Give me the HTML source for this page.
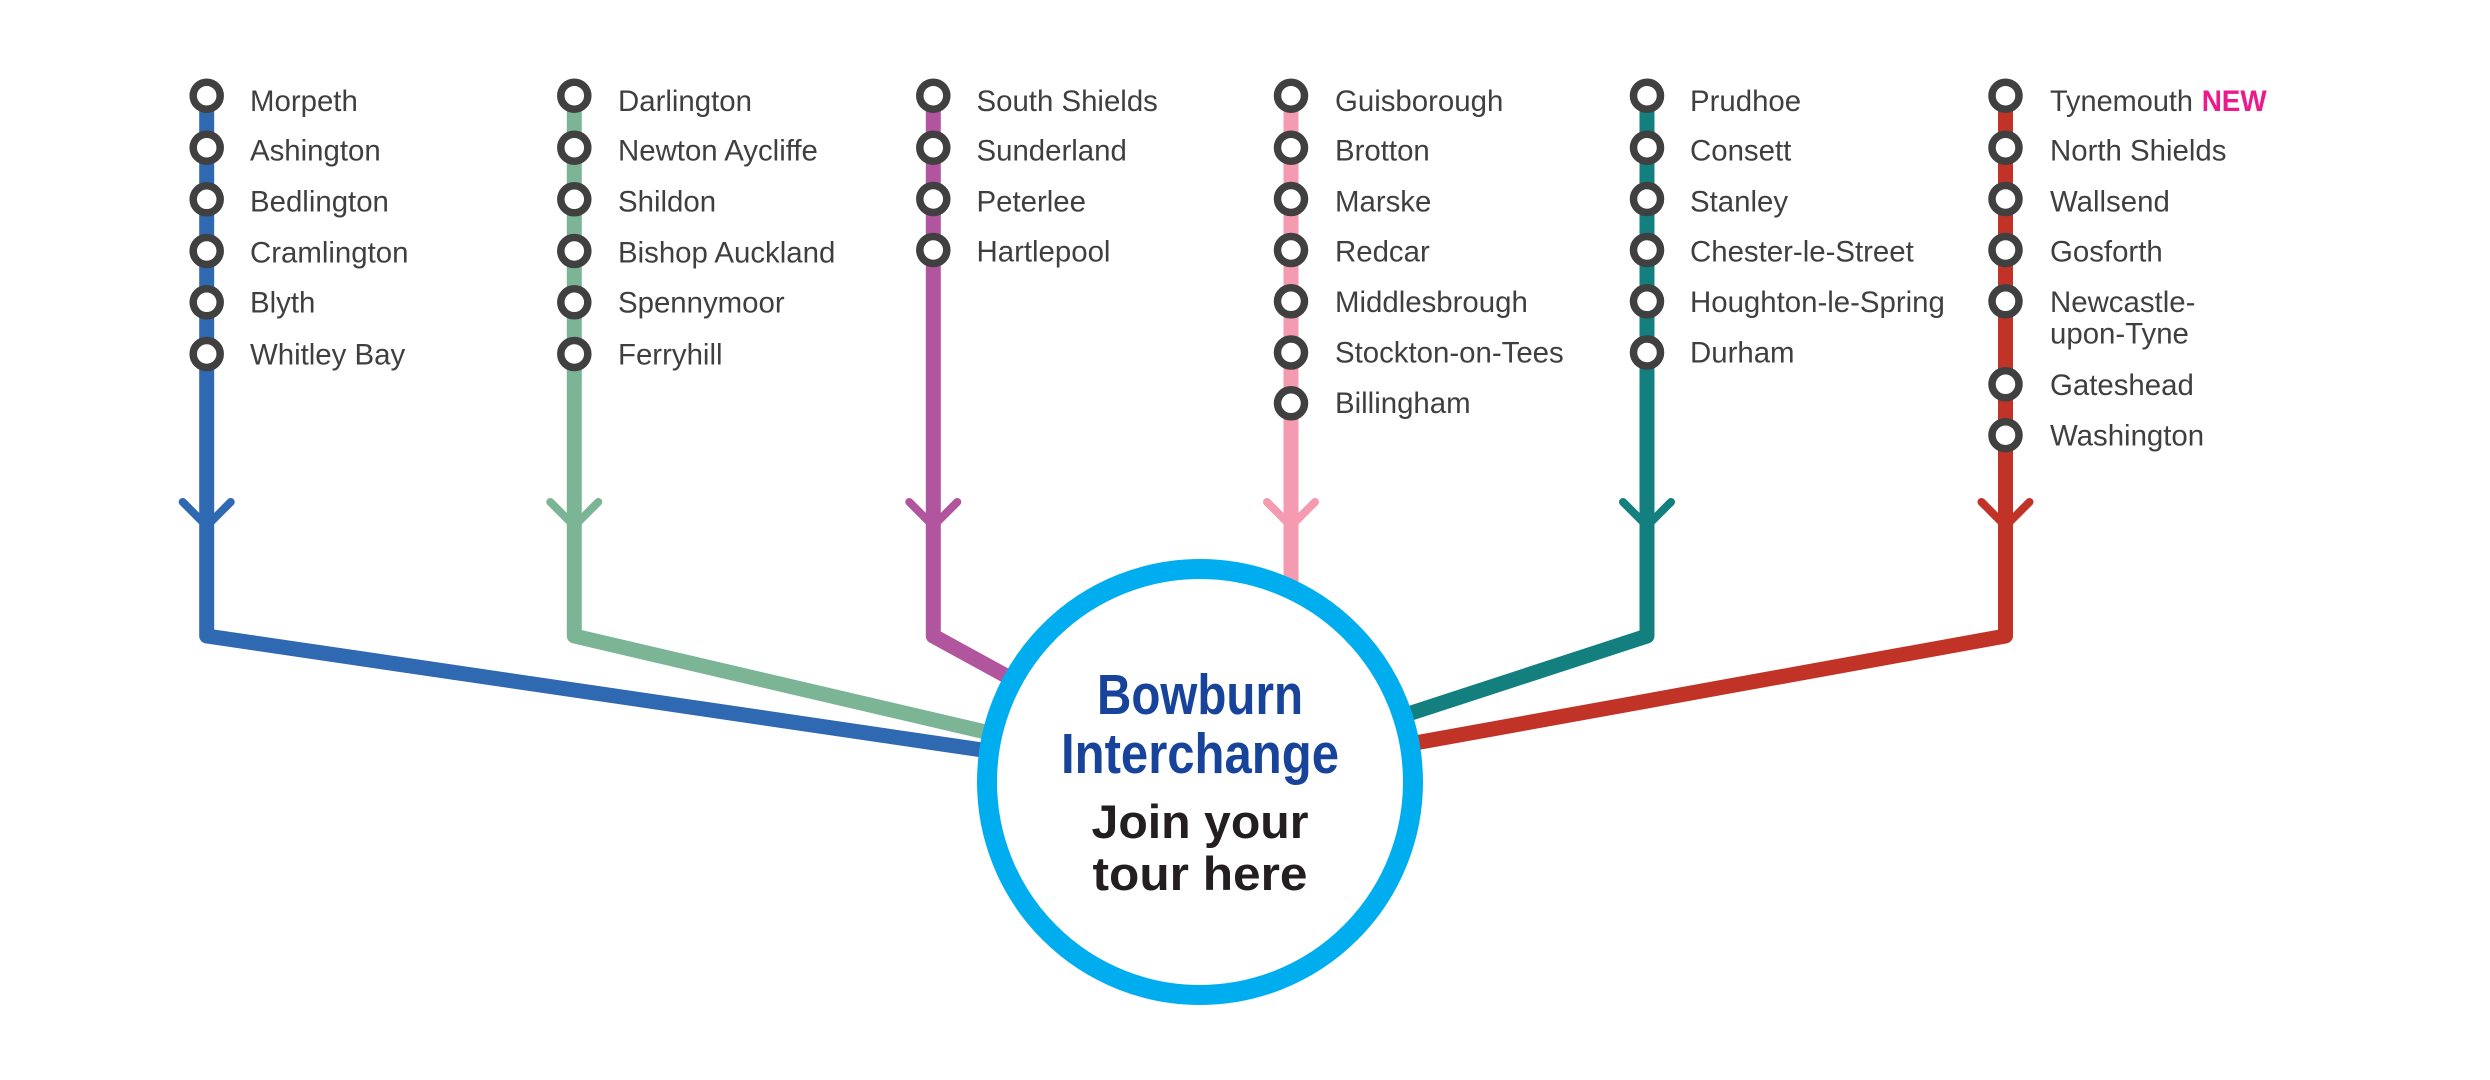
<!DOCTYPE html>
<html>
<head>
<meta charset="utf-8">
<style>
  html, body { margin:0; padding:0; background:#ffffff; }
  body { width:2490px; height:1080px; overflow:hidden; }
  svg { display:block; }
  .st { font-family:"Liberation Sans", Arial, sans-serif; font-size:29.4px; fill:#3f3f3f; }
  .ring { fill:#ffffff; stroke:#404040; stroke-width:7.5; }
  .ln { fill:none; stroke-width:15; stroke-linejoin:round; stroke-linecap:butt; }
  .arr { fill:none; stroke-width:8; stroke-linejoin:round; stroke-linecap:round; }
</style>
</head>
<body>
<svg width="2490" height="1080" viewBox="0 0 2490 1080" xmlns="http://www.w3.org/2000/svg">
  <rect width="2490" height="1080" fill="#ffffff"/>

  <!-- Route lines -->
  <path class="ln" stroke="#2f69b1" d="M206.7,95.7 L206.7,636 L1200,782"/>
  <path class="ln" stroke="#7bb596" d="M574.3,95.7 L574.3,636 L1200,782"/>
  <path class="ln" stroke="#b0559e" d="M933.3,95.7 L933.3,636 L1200,782"/>
  <path class="ln" stroke="#f49ab1" d="M1291,95.7 L1291,720"/>
  <path class="ln" stroke="#13807f" d="M1647,95.7 L1647,636 L1200,782"/>
  <path class="ln" stroke="#c23327" d="M2005.5,95.7 L2005.5,636 L1200,782"/>

  <!-- Arrow chevrons -->
  <path class="arr" stroke="#2f69b1" d="M182.7,502 L206.7,526 L230.7,502"/>
  <path class="arr" stroke="#7bb596" d="M550.3,502 L574.3,526 L598.3,502"/>
  <path class="arr" stroke="#b0559e" d="M909.3,502 L933.3,526 L957.3,502"/>
  <path class="arr" stroke="#f49ab1" d="M1267,502 L1291,526 L1315,502"/>
  <path class="arr" stroke="#13807f" d="M1623,502 L1647,526 L1671,502"/>
  <path class="arr" stroke="#c23327" d="M1981.5,502 L2005.5,526 L2029.5,502"/>

  <!-- Interchange circle -->
  <circle cx="1200" cy="782" r="213" fill="#ffffff" stroke="#00aeef" stroke-width="20"/>
  <text x="1200" y="714" text-anchor="middle" font-family="'Liberation Sans Narrow','Liberation Sans',sans-serif" font-weight="bold" font-size="57" fill="#17449a" textLength="206" lengthAdjust="spacingAndGlyphs">Bowburn</text>
  <text x="1200" y="773" text-anchor="middle" font-family="'Liberation Sans Narrow','Liberation Sans',sans-serif" font-weight="bold" font-size="57" fill="#17449a" textLength="278" lengthAdjust="spacingAndGlyphs">Interchange</text>
  <text x="1200" y="838" text-anchor="middle" font-family="'Liberation Sans',sans-serif" font-weight="bold" font-size="47" fill="#231f20" textLength="217" lengthAdjust="spacingAndGlyphs">Join your</text>
  <text x="1200" y="890" text-anchor="middle" font-family="'Liberation Sans',sans-serif" font-weight="bold" font-size="47" fill="#231f20" textLength="215" lengthAdjust="spacingAndGlyphs">tour here</text>

  <!-- Column 1 (blue) -->
  <g>
    <circle class="ring" cx="206.7" cy="95.7" r="13.5"/>
    <circle class="ring" cx="206.7" cy="147.7" r="13.5"/>
    <circle class="ring" cx="206.7" cy="199.3" r="13.5"/>
    <circle class="ring" cx="206.7" cy="251" r="13.5"/>
    <circle class="ring" cx="206.7" cy="302.3" r="13.5"/>
    <circle class="ring" cx="206.7" cy="354" r="13.5"/>
    <text class="st" x="250" y="111">Morpeth</text>
    <text class="st" x="250" y="160.5">Ashington</text>
    <text class="st" x="250" y="211.7">Bedlington</text>
    <text class="st" x="250" y="262.3">Cramlington</text>
    <text class="st" x="250" y="312.5">Blyth</text>
    <text class="st" x="250" y="364.3">Whitley Bay</text>
  </g>

  <!-- Column 2 (green) -->
  <g>
    <circle class="ring" cx="574.3" cy="95.7" r="13.5"/>
    <circle class="ring" cx="574.3" cy="147.7" r="13.5"/>
    <circle class="ring" cx="574.3" cy="199.3" r="13.5"/>
    <circle class="ring" cx="574.3" cy="251" r="13.5"/>
    <circle class="ring" cx="574.3" cy="302.3" r="13.5"/>
    <circle class="ring" cx="574.3" cy="354" r="13.5"/>
    <text class="st" x="618" y="111">Darlington</text>
    <text class="st" x="618" y="160.5">Newton Aycliffe</text>
    <text class="st" x="618" y="211.7">Shildon</text>
    <text class="st" x="618" y="262.3">Bishop Auckland</text>
    <text class="st" x="618" y="312.5">Spennymoor</text>
    <text class="st" x="618" y="364.3">Ferryhill</text>
  </g>

  <!-- Column 3 (purple) -->
  <g>
    <circle class="ring" cx="933.3" cy="95.7" r="13.5"/>
    <circle class="ring" cx="933.3" cy="147.7" r="13.5"/>
    <circle class="ring" cx="933.3" cy="199" r="13.5"/>
    <circle class="ring" cx="933.3" cy="250" r="13.5"/>
    <text class="st" x="976.5" y="111">South Shields</text>
    <text class="st" x="976.5" y="160.3">Sunderland</text>
    <text class="st" x="976.5" y="211.3">Peterlee</text>
    <text class="st" x="976.5" y="261.5">Hartlepool</text>
  </g>

  <!-- Column 4 (pink) -->
  <g>
    <circle class="ring" cx="1291" cy="95.7" r="13.5"/>
    <circle class="ring" cx="1291" cy="147.7" r="13.5"/>
    <circle class="ring" cx="1291" cy="199" r="13.5"/>
    <circle class="ring" cx="1291" cy="250" r="13.5"/>
    <circle class="ring" cx="1291" cy="301.3" r="13.5"/>
    <circle class="ring" cx="1291" cy="352.5" r="13.5"/>
    <circle class="ring" cx="1291" cy="403.3" r="13.5"/>
    <text class="st" x="1335" y="111">Guisborough</text>
    <text class="st" x="1335" y="160.3">Brotton</text>
    <text class="st" x="1335" y="211.3">Marske</text>
    <text class="st" x="1335" y="261.5">Redcar</text>
    <text class="st" x="1335" y="311.8">Middlesbrough</text>
    <text class="st" x="1335" y="362.5">Stockton-on-Tees</text>
    <text class="st" x="1335" y="412.8">Billingham</text>
  </g>

  <!-- Column 5 (teal) -->
  <g>
    <circle class="ring" cx="1647" cy="95.7" r="13.5"/>
    <circle class="ring" cx="1647" cy="147.7" r="13.5"/>
    <circle class="ring" cx="1647" cy="199" r="13.5"/>
    <circle class="ring" cx="1647" cy="250" r="13.5"/>
    <circle class="ring" cx="1647" cy="301.3" r="13.5"/>
    <circle class="ring" cx="1647" cy="352.5" r="13.5"/>
    <text class="st" x="1690" y="111">Prudhoe</text>
    <text class="st" x="1690" y="160.3">Consett</text>
    <text class="st" x="1690" y="211.3">Stanley</text>
    <text class="st" x="1690" y="261.5">Chester-le-Street</text>
    <text class="st" x="1690" y="311.8">Houghton-le-Spring</text>
    <text class="st" x="1690" y="362.5">Durham</text>
  </g>

  <!-- Column 6 (red) -->
  <g>
    <circle class="ring" cx="2005.5" cy="95.7" r="13.5"/>
    <circle class="ring" cx="2005.5" cy="147.7" r="13.5"/>
    <circle class="ring" cx="2005.5" cy="199" r="13.5"/>
    <circle class="ring" cx="2005.5" cy="250" r="13.5"/>
    <circle class="ring" cx="2005.5" cy="301.3" r="13.5"/>
    <circle class="ring" cx="2005.5" cy="384.3" r="13.5"/>
    <circle class="ring" cx="2005.5" cy="435.2" r="13.5"/>
    <text class="st" x="2050" y="111" textLength="143" lengthAdjust="spacingAndGlyphs">Tynemouth</text>
    <text x="2201.7" y="111" font-family="'Liberation Sans',sans-serif" font-weight="bold" font-size="30" fill="#ec1b8c" textLength="65" lengthAdjust="spacingAndGlyphs">NEW</text>
    <text class="st" x="2050" y="160.3">North Shields</text>
    <text class="st" x="2050" y="211.3">Wallsend</text>
    <text class="st" x="2050" y="261.5">Gosforth</text>
    <text class="st" x="2050" y="311.8">Newcastle-</text>
    <text class="st" x="2050" y="343.3">upon-Tyne</text>
    <text class="st" x="2050" y="395">Gateshead</text>
    <text class="st" x="2050" y="445.7">Washington</text>
  </g>
</svg>
</body>
</html>
